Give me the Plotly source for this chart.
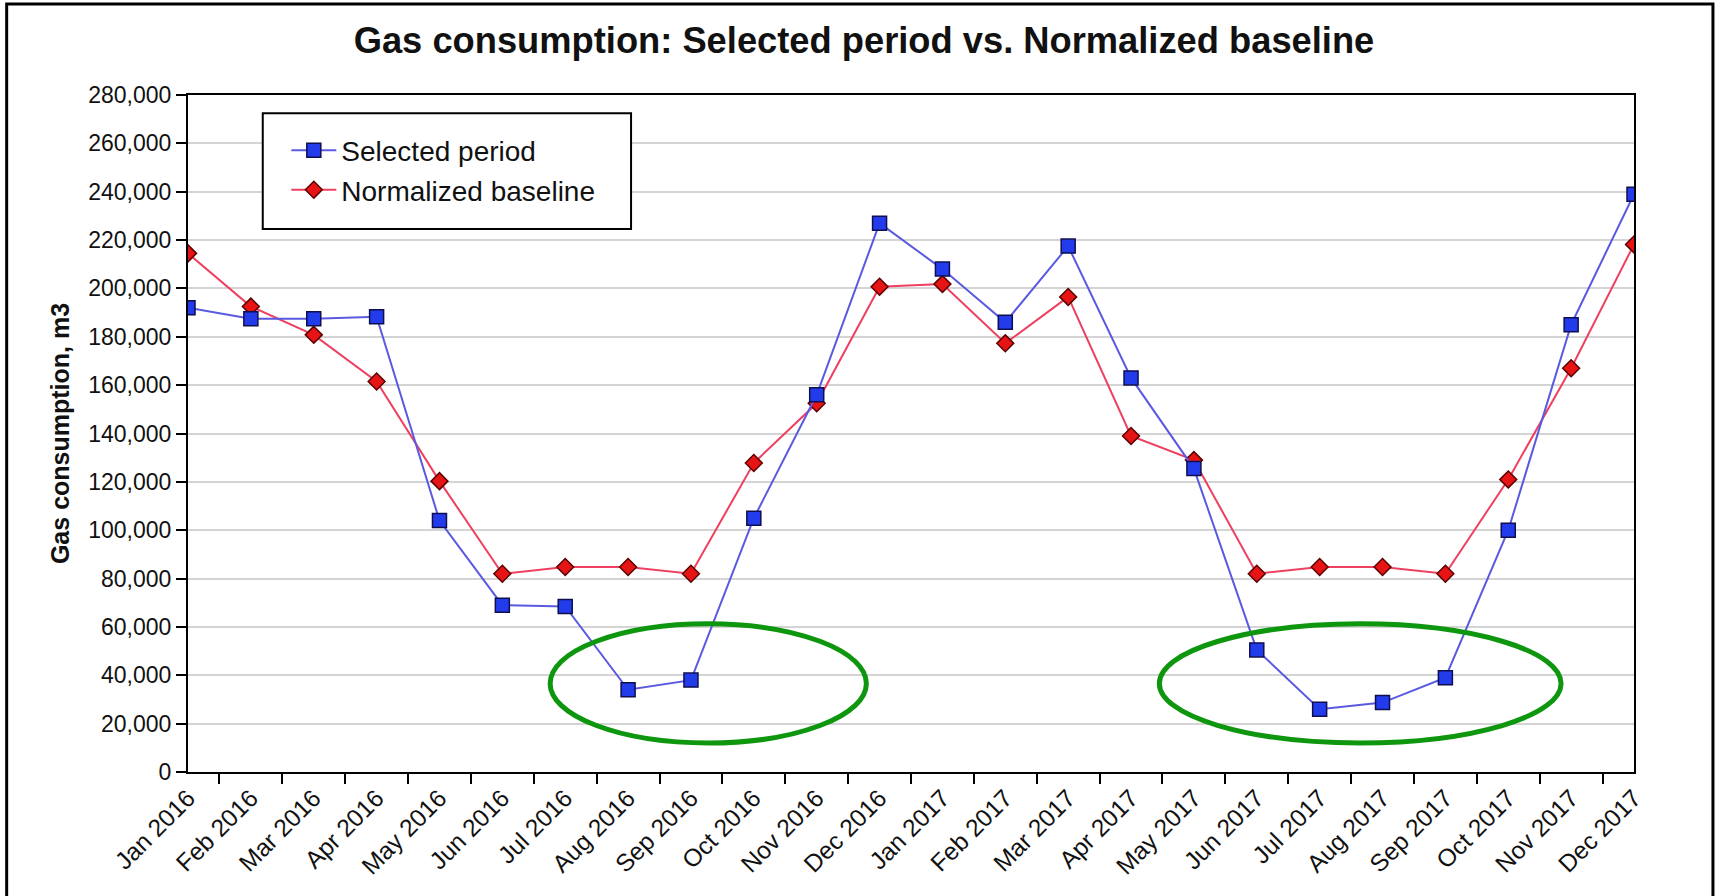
import plotly.graph_objects as go

months = ["Jan 2016", "Feb 2016", "Mar 2016", "Apr 2016", "May 2016", "Jun 2016",
          "Jul 2016", "Aug 2016", "Sep 2016", "Oct 2016", "Nov 2016", "Dec 2016",
          "Jan 2017", "Feb 2017", "Mar 2017", "Apr 2017", "May 2017", "Jun 2017",
          "Jul 2017", "Aug 2017", "Sep 2017", "Oct 2017", "Nov 2017", "Dec 2017"]

selected_period = [192000, 187500, 187500, 188300, 104000, 69000, 68500, 34000, 38000,
                   105000, 156000, 227000, 208000, 186000, 217500, 163000, 125500,
                   50500, 26000, 28700, 39000, 100000, 185000, 239000]

normalized_baseline = [214500, 192500, 180800, 161500, 120300, 82000, 84800, 84800, 82000,
                       127800, 152500, 200700, 201800, 177300, 196500, 139000, 129000,
                       82000, 84800, 84800, 82000, 121000, 167000, 218200]

y_ticks = list(range(0, 280001, 20000))

# highlight ellipses (category index, value)
ellipse_left = dict(x0=5.76, x1=10.79, y0=12000, y1=61300)
ellipse_right = dict(x0=15.45, x1=21.84, y0=12000, y1=61300)

FONT = "Liberation Sans, Arial, sans-serif"

fig = go.Figure()

fig.add_trace(go.Scatter(
    x=months, y=normalized_baseline, name="Normalized baseline",
    mode="lines+markers", legendrank=2,
    line=dict(color="rgb(238,64,96)", width=2),
    marker=dict(symbol="diamond", size=13, color="rgb(230,20,20)",
                line=dict(color="rgb(90,0,0)", width=1.5)),
))
fig.add_trace(go.Scatter(
    x=months, y=selected_period, name="Selected period",
    mode="lines+markers", legendrank=1,
    line=dict(color="rgb(90,90,225)", width=2),
    marker=dict(symbol="square", size=14, color="rgb(35,60,235)",
                line=dict(color="rgb(15,15,80)", width=1.5)),
))

shapes = []
for e in (ellipse_left, ellipse_right):
    shapes.append(dict(type="circle", xref="x", yref="y", layer="above",
                       line=dict(color="rgb(15,150,15)", width=5), **e))
# legend box
shapes.append(dict(type="rect", xref="paper", yref="paper", layer="above",
                   x0=0.0517, x1=0.3064, y0=0.802, y1=0.973,
                   fillcolor="white", line=dict(color="black", width=2)))
# outer frame
shapes.append(dict(type="rect", xref="paper", yref="paper", layer="above",
                   x0=-0.1254, x1=1.0546, y0=-0.25, y1=1.1344,
                   line=dict(color="black", width=3)))

fig.update_layout(
    width=1716, height=896, autosize=False,
    margin=dict(l=188, r=82, t=95, b=124),
    paper_bgcolor="white", plot_bgcolor="white",
    font=dict(family=FONT, color="#111111"),
    title=dict(text="<b>Gas consumption: Selected period vs. Normalized baseline</b>",
               x=0.5035, xanchor="center", y=0.955, yanchor="middle",
               xref="container", yref="container",
               font=dict(family=FONT, size=36.3, color="#111111")),
    showlegend=True,
    legend=dict(x=0.068, y=0.889, xanchor="left", yanchor="middle",
                bgcolor="rgba(0,0,0,0)", borderwidth=0, itemwidth=45,
                font=dict(family=FONT, size=28, color="#111111"),
                traceorder="normal"),
    shapes=shapes,
    xaxis=dict(type="category", range=[0, 23], tickson="boundaries",
               ticks="outside", ticklen=10, tickwidth=2, tickcolor="black",
               tickangle=-45, tickfont=dict(family=FONT, size=24.5, color="#111111"),
               showline=True, linecolor="black", linewidth=2, mirror=True,
               showgrid=False, zeroline=False),
    yaxis=dict(range=[0, 280000], tickvals=y_ticks, tickformat=",d",
               ticks="outside", ticklen=10, tickwidth=2, tickcolor="black",
               tickfont=dict(family=FONT, size=23, color="#111111"),
               showline=True, linecolor="black", linewidth=2, mirror=True,
               showgrid=True, gridcolor="rgb(212,212,212)", gridwidth=2,
               zeroline=False,
               title=dict(text="<b>Gas consumption, m3</b>", standoff=12,
                          font=dict(family=FONT, size=25, color="#111111"))),
)

fig.write_html("out.html", config={"displayModeBar": False},
               post_script="document.body.style.margin='0px';document.body.style.overflow='hidden';")
